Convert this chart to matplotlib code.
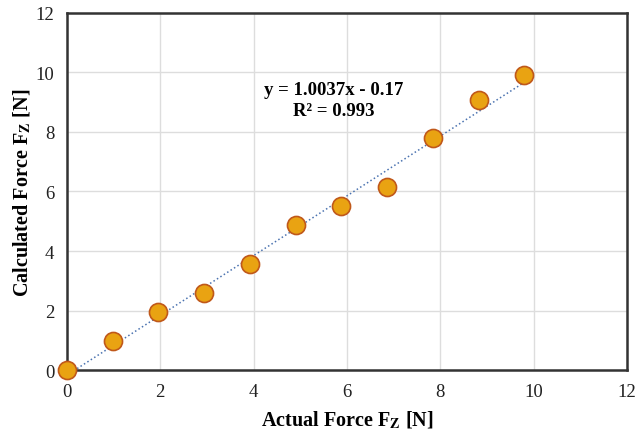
import matplotlib.pyplot as plt
import numpy as np

plt.rcParams['font.family'] = 'Liberation Serif'
plt.rcParams['mathtext.fontset'] = 'stix'

# Messpunkte
actual = [0, 0.98, 1.96, 2.94, 3.92, 4.90, 5.88, 6.86, 7.84, 8.82, 9.80]
calculated = [0, 0.98, 1.96, 2.60, 3.56, 4.86, 5.52, 6.15, 7.79, 9.07, 9.93]

# Trendlinie
slope = 1.0037
intercept = -0.17
ticks = [0, 2, 4, 6, 8, 10, 12]

fig = plt.figure(figsize=(6.43, 4.35), dpi=100)
ax = fig.add_axes([0.104, 0.147, 0.871, 0.821])

xt = np.array([actual[0], actual[-1]])
ax.plot(xt, slope * xt + intercept, linestyle=':', color='#4a72b0', linewidth=1.1, zorder=2)
ax.plot(actual, calculated, 'o', markersize=13, markerfacecolor='#E9A312',
        markeredgecolor='#C0581A', markeredgewidth=1.2, zorder=3, clip_on=False)

ax.set_xlim(0, 12)
ax.set_ylim(0, 12)
ax.set_xticks(ticks)
ax.set_yticks(ticks)
ax.tick_params(axis='x', length=0, labelsize=13.5, pad=9, colors='#222222')
ax.tick_params(axis='y', length=0, labelsize=13.5, pad=9, colors='#222222')
ax.grid(color='#dddddd', linewidth=1)
ax.set_axisbelow(True)
for s in ax.spines.values():
    s.set_color('#333333')
    s.set_linewidth(1.8)

ax.set_xlabel(r'Actual Force F$_\mathbf{Z}$ [N]', fontsize=14.5, fontweight='bold', labelpad=7)
ax.set_ylabel(r'Calculated Force F$_\mathbf{Z}$ [N]', fontsize=14.5, fontweight='bold', labelpad=2)

ax.text(5.72, 9.08, 'y = 1.0037x - 0.17\nR² = 0.993', ha='center', va='center',
        fontsize=13.5, fontweight='bold', linespacing=1.35)

fig.savefig('out.png', dpi=100)
